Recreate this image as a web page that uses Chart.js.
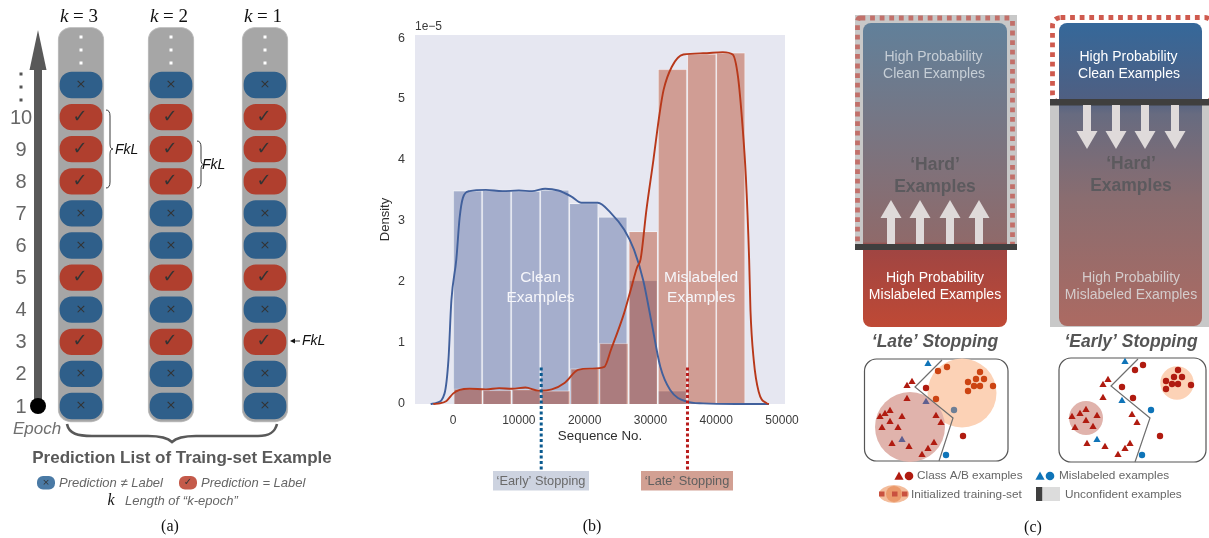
<!DOCTYPE html>
<html>
<head>
<meta charset="utf-8">
<title>Prediction history and stopping</title>
<script src="https://cdn.jsdelivr.net/npm/chart.js@4"></script>
<style>
  html, body { margin: 0; padding: 0; background: #fff; overflow: hidden; }
  canvas { position: absolute; top: 0; }
  #panelA { left: 0; }
  #panelB { left: 370px; }
  #panelC { left: 840px; }
</style>
</head>
<body>
<canvas id="panelA" width="340" height="538"></canvas>
<canvas id="panelB" width="440" height="538"></canvas>
<canvas id="panelC" width="369" height="538"></canvas>
<script>
// ---- panel (a): prediction list
const epochs = [1, 2, 3, 4, 5, 6, 7, 8, 9, 10, 11];
const kColumns = [81, 171, 265];
const kNames = ["3", "2", "1"];
const predictionCorrect = [0, 0, 1, 0, 1, 0, 0, 1, 1, 1, 0];
const epochLabels = ["1", "2", "3", "4", "5", "6", "7", "8", "9", "10"];

// ---- panel (b): histograms and density curves
const xTickValues = [0, 10000, 20000, 30000, 40000, 50000];
const cleanBinCenters = [2207, 6622, 11037, 15452, 19867, 24282, 28900, 33300];
const cleanBinHeights = [3.5, 3.51, 3.49, 3.51, 3.29, 3.07, 2.03, 0.22];
const misBinCenters = [2300, 6700, 11150, 15600, 20050, 24450, 28900, 33350, 37800, 42200];
const misBinHeights = [0.25, 0.23, 0.24, 0.22, 0.58, 1.0, 2.83, 5.49, 5.74, 5.76];
const cleanKdeX = [-3400, -2500, -1300, -700, -250, 500, 1000, 1500, 2500, 5000, 7500, 10000, 12000, 14000, 16000, 18000, 19500, 22000, 24000, 26000, 27500, 28900, 30200, 31500, 33000, 35500, 38000, 43000, 48000];
const cleanKdeY = [0, 0.02, 0.17, 0.72, 1.7, 2.37, 3.05, 3.38, 3.49, 3.51, 3.49, 3.5, 3.49, 3.53, 3.5, 3.4, 3.3, 3.3, 3.13, 2.86, 2.53, 2.03, 1.32, 0.61, 0.23, 0.04, 0.01, 0, 0];
const misKdeX = [-3000, -2000, -1000, 0, 1000, 2500, 5000, 7000, 9000, 11000, 13000, 15000, 17000, 19000, 21000, 23000, 24000, 26000, 27000, 28000, 28500, 29400, 30450, 31400, 32000, 33250, 35000, 38000, 41000, 42500, 43300, 44000, 44500, 45000, 45200, 45700, 46450, 47700, 48000];
const misKdeY = [0, 0.01, 0.05, 0.17, 0.23, 0.25, 0.24, 0.26, 0.25, 0.27, 0.22, 0.24, 0.35, 0.56, 0.58, 0.61, 0.89, 1.49, 1.87, 2.25, 2.37, 3.19, 4.0, 4.77, 5.15, 5.53, 5.73, 5.75, 5.77, 5.73, 5.37, 4.55, 3.73, 2.37, 1.54, 0.72, 0.2, 0.01, 0];
const earlyStopX = 13400;
const lateStopX = 35630;
const stopLineY = [0.6, -1.08];

// ---- panel (c): example sketches
const lateTriangles = [[72,382],[67,386],[67,399],[50,411],[45,414],[40,417],[62,417],[50,422],[42,428],[58,428],[96,416],[101,423],[52,444],[69,447],[94,443],[88,449],[82,455]];
const lateTinted = [[86,402],[62,440]];
const lateBlueTriangles = [[88,364]];
const lateCircles = [[86,388],[123,436]];
const lateOrangeCircles = [[98,371],[107,367],[96,399],[128,382],[140,372],[136,379],[144,379],[134,386],[140,386],[153,386],[128,391]];
const lateGreyCircles = [[114,410]];
const lateBlueCircles = [[106,455]];
const lateBoundary = [[102,360],[75,387],[113,418],[99,461]];
const earlyTriangles = [[268,380],[263,385],[263,398],[246,410],[240,414],[232,417],[257,416],[246,421],[235,428],[253,427],[292,415],[297,423],[247,444],[265,447],[290,444],[285,449],[278,455]];
const earlyBlueTriangles = [[285,362],[282,401],[257,440]];
const earlyCircles = [[303,365],[295,370],[282,387],[293,398],[320,436],[338,370],[334,377],[342,377],[326,381],[332,384],[338,384],[351,385],[326,389]];
const earlyBlueCircles = [[311,410],[302,455]];
const earlyBoundary = [[298,359],[271,386],[310,418],[295,462]];

const SANS = '"Liberation Sans", Arial, sans-serif';
const SERIF = '"Liberation Serif", serif';
Chart.defaults.font.family = SANS;
Chart.defaults.animation = false;

function text(ctx, str, x, y, font, color, align) {
  ctx.font = font;
  ctx.fillStyle = color;
  ctx.textAlign = align || "center";
  ctx.textBaseline = "middle";
  ctx.fillText(str, x, y);
}

function roundBox(ctx, x, y, w, h, r) {
  ctx.beginPath();
  ctx.roundRect(x, y, w, h, r);
}

function toPoints(list) {
  return list.map(p => ({ x: p[0], y: p[1] }));
}

const quiet = { legend: { display: false }, tooltip: { enabled: false } };

// ---------------- panel (a)
function pills(flag) {
  const out = [];
  kColumns.forEach(col => {
    epochs.forEach((e, i) => {
      if (predictionCorrect[i] === flag) out.push({ x: col, y: [e - 0.4, e + 0.4] });
    });
  });
  return out;
}

const panelAPlugin = {
  id: "panelA",
  afterDatasetsDraw(chart) {
    const ctx = chart.ctx;
    const yPx = v => chart.scales.y.getPixelForValue(v);
    const xPx = v => chart.scales.x.getPixelForValue(v);
    ctx.save();

    // epoch arrow
    ctx.fillStyle = "#595959";
    ctx.fillRect(34, 70, 8, 336);
    ctx.beginPath();
    ctx.moveTo(38, 30); ctx.lineTo(46.5, 70); ctx.lineTo(29.5, 70); ctx.closePath();
    ctx.fill();
    ctx.fillStyle = "#000";
    ctx.beginPath();
    ctx.arc(38, yPx(1), 8, 0, Math.PI * 2);
    ctx.fill();
    epochLabels.forEach(l => text(ctx, l, 21, yPx(Number(l)) + 1, "20px " + SANS, "#666"));
    ctx.fillStyle = "#555";
    [74, 87, 100].forEach(y => ctx.fillRect(19.5, y - 1.5, 3, 3));
    text(ctx, "Epoch", 13, 429, "italic 17px " + SANS, "#707070", "left");

    // column heads and contents
    kColumns.forEach((col, c) => {
      const x = xPx(col);
      ctx.font = "italic 19px " + SERIF;
      const tail = " = " + kNames[c];
      const kw = ctx.measureText("k").width;
      ctx.font = "19px " + SERIF;
      const tw = ctx.measureText(tail).width;
      const left = x - 2 - (kw + tw) / 2;
      text(ctx, "k", left, 17, "italic 19px " + SERIF, "#111", "left");
      text(ctx, tail, left + kw, 17, "19px " + SERIF, "#111", "left");
      ctx.fillStyle = "#fff";
      [37, 50, 63].forEach(y => ctx.fillRect(x - 1.5, y - 1.5, 3, 3));
      epochs.forEach((e, i) => {
        if (predictionCorrect[i]) {
          text(ctx, "\u2713", x - 1, yPx(e), "bold 18px 'DejaVu Sans'", "#333");
        } else {
          text(ctx, "\u00d7", x, yPx(e), "13px 'DejaVu Sans'", "#333");
        }
      });
    });

    // FkL braces
    const brace = (x, top, bottom) => {
      const mid = (top + bottom) / 2;
      ctx.beginPath();
      ctx.moveTo(x, top);
      ctx.quadraticCurveTo(x + 4, top, x + 4, top + 6);
      ctx.lineTo(x + 4, mid - 5);
      ctx.quadraticCurveTo(x + 4, mid, x + 7, mid);
      ctx.quadraticCurveTo(x + 4, mid, x + 4, mid + 5);
      ctx.lineTo(x + 4, bottom - 6);
      ctx.quadraticCurveTo(x + 4, bottom, x, bottom);
      ctx.stroke();
    };
    ctx.strokeStyle = "#222";
    ctx.lineWidth = 0.9;
    brace(106, 110, 188);
    brace(197, 141, 188);
    text(ctx, "FkL", 115, 150, "italic 14px " + SANS, "#111", "left");
    text(ctx, "FkL", 202, 165, "italic 14px " + SANS, "#111", "left");
    text(ctx, "FkL", 302, 341, "italic 14px " + SANS, "#111", "left");
    ctx.beginPath();
    ctx.moveTo(300, 341); ctx.lineTo(293, 341);
    ctx.stroke();
    ctx.fillStyle = "#111";
    ctx.beginPath();
    ctx.moveTo(290, 341); ctx.lineTo(295, 338.5); ctx.lineTo(295, 343.5); ctx.closePath();
    ctx.fill();

    // bottom brace
    ctx.strokeStyle = "#595959";
    ctx.lineWidth = 2.6;
    ctx.beginPath();
    ctx.moveTo(67, 424);
    ctx.bezierCurveTo(69, 434, 78, 436, 92, 436);
    ctx.lineTo(148, 436);
    ctx.bezierCurveTo(160, 436, 168, 438, 172, 442);
    ctx.bezierCurveTo(176, 438, 184, 436, 196, 436);
    ctx.lineTo(258, 436);
    ctx.bezierCurveTo(270, 436, 275, 432, 277, 424);
    ctx.stroke();

    text(ctx, "Prediction List of Traing-set Example", 182, 458, "bold 17px " + SANS, "#595959");

    // key
    ctx.fillStyle = "#4a7aa5";
    roundBox(ctx, 37, 476, 18, 13.5, 6);
    ctx.fill();
    text(ctx, "\u00d7", 46, 482.5, "9px 'DejaVu Sans'", "#333");
    text(ctx, "Prediction \u2260 Label", 59, 483, "italic 13px " + SANS, "#666", "left");
    ctx.fillStyle = "#c45a4a";
    roundBox(ctx, 179, 476, 18, 13.5, 6);
    ctx.fill();
    text(ctx, "\u2713", 188, 482.5, "10px 'DejaVu Sans'", "#333");
    text(ctx, "Prediction = Label", 201, 483, "italic 13px " + SANS, "#666", "left");
    text(ctx, "k", 111, 501, "italic 16px " + SERIF, "#111");
    text(ctx, "Length of \u201ck-epoch\u201d", 125, 501, "italic 13px " + SANS, "#666", "left");
    text(ctx, "(a)", 170, 527, "16px " + SERIF, "#111");
    ctx.restore();
  },
};

new Chart("panelA", {
  type: "bar",
  data: {
    datasets: [
      { data: pills(1), backgroundColor: "#b03f2e", barThickness: 42, grouped: false, borderRadius: 12, borderSkipped: false },
      { data: pills(0), backgroundColor: "#2f5f8a", barThickness: 42, grouped: false, borderRadius: 12, borderSkipped: false },
      {
        data: kColumns.map(col => ({ x: col, y: [0.5, 12.8] })),
        backgroundColor: "#a6a6a6",
        borderColor: "#c4c4c4",
        borderWidth: 1,
        barThickness: 46,
        grouped: false,
        borderRadius: 13,
        borderSkipped: false,
      },
    ],
  },
  options: {
    responsive: false,
    layout: { padding: 0, autoPadding: false },
    plugins: quiet,
    scales: {
      x: { type: "linear", display: false, offset: false, min: 0, max: 340 },
      y: { type: "linear", display: false, min: -3.112, max: 13.648 },
    },
  },
  plugins: [panelAPlugin],
});

// ---------------- panel (b)
const panelBPlugin = {
  id: "panelB",
  beforeDraw(chart) {
    const a = chart.chartArea;
    chart.ctx.save();
    chart.ctx.fillStyle = "#e6e7f1";
    chart.ctx.fillRect(a.left, a.top, a.right - a.left, a.bottom - a.top);
    chart.ctx.restore();
  },
  afterDatasetsDraw(chart) {
    const ctx = chart.ctx;
    const a = chart.chartArea;
    const x = chart.scales.x;
    ctx.save();
    text(ctx, "1e\u22125", a.left, 27, "12px " + SANS, "#3a3a3a", "left");
    const cleanX = x.getPixelForValue(13300);
    const misX = x.getPixelForValue(37700);
    text(ctx, "Clean", cleanX, 278, "15.5px " + SANS, "#f6f6fa");
    text(ctx, "Examples", cleanX, 298, "15.5px " + SANS, "#f6f6fa");
    text(ctx, "Mislabeled", misX, 278, "15.5px " + SANS, "#f6f6fa");
    text(ctx, "Examples", misX, 298, "15.5px " + SANS, "#f6f6fa");

    ctx.fillStyle = "#cdd3e0";
    ctx.fillRect(123, 471, 96, 19.5);
    text(ctx, "\u2018Early\u2019 Stopping", 171, 481, "12.8px " + SANS, "#6a6a6a");
    ctx.fillStyle = "#d2a093";
    ctx.fillRect(271, 471, 92, 19.5);
    text(ctx, "\u2018Late\u2019 Stopping", 317, 481, "12.8px " + SANS, "#5f5f5f");
    text(ctx, "(b)", 222, 527, "16px " + SERIF, "#111");
    ctx.restore();
  },
};

const zipXY = (xs, ys) => xs.map((v, i) => ({ x: v, y: ys[i] }));
const stopLine = (x, color) => ({
  type: "line",
  data: stopLineY.map(y => ({ x: x, y: y })),
  borderColor: color,
  borderWidth: 3,
  borderDash: [3, 2.5],
  pointRadius: 0,
  clip: false,
});
const kdeLine = (xs, ys, color, width) => ({
  type: "line",
  data: zipXY(xs, ys),
  borderColor: color,
  borderWidth: width,
  pointRadius: 0,
  cubicInterpolationMode: "monotone",
  clip: false,
});

new Chart("panelB", {
  type: "bar",
  data: {
    datasets: [
      stopLine(earlyStopX, "#0b5a8f"),
      stopLine(lateStopX, "#b81c1c"),
      kdeLine(misKdeX, misKdeY, "#b8381a", 1.9),
      kdeLine(cleanKdeX, cleanKdeY, "#41609c", 1.9),
      {
        data: zipXY(misBinCenters, misBinHeights),
        backgroundColor: "rgba(178,55,20,0.42)",
        borderColor: "rgba(255,255,255,0.4)",
        borderWidth: 1,
        barThickness: 29,
        grouped: false,
      },
      {
        data: zipXY(cleanBinCenters, cleanBinHeights),
        backgroundColor: "rgba(68,90,150,0.4)",
        borderColor: "rgba(255,255,255,0.45)",
        borderWidth: 1,
        barThickness: 29,
        grouped: false,
      },
    ],
  },
  options: {
    responsive: false,
    layout: { padding: { left: 8, right: 25, top: 35, bottom: 94 }, autoPadding: false },
    plugins: quiet,
    scales: {
      x: {
        type: "linear",
        offset: false,
        min: -5780,
        max: 50450,
        border: { display: false },
        grid: { display: false, drawTicks: false },
        afterBuildTicks: s => { s.ticks = xTickValues.map(v => ({ value: v })); },
        ticks: {
          autoSkip: false,
          maxRotation: 0,
          padding: 9,
          color: "#3a3a3a",
          font: { size: 12 },
          callback: v => String(v),
        },
        title: { display: true, text: "Sequence No.", color: "#2e2e2e", font: { size: 13.3 }, padding: { top: 0, bottom: 0 } },
        afterFit: s => { s.height = 40; },
      },
      y: {
        type: "linear",
        min: 0,
        max: 6.05,
        border: { display: false },
        grid: { display: false, drawTicks: false },
        ticks: { stepSize: 1, includeBounds: false, padding: 10, color: "#3a3a3a", font: { size: 12.5 } },
        title: { display: true, text: "Density", color: "#2e2e2e", font: { size: 13 }, padding: { top: 0, bottom: 0 } },
        afterFit: s => { s.width = 37; },
      },
    },
  },
  plugins: [panelBPlugin],
});

// ---------------- panel (c)
function gradientPanel(ctx, x, y, w, h, stops) {
  const g = ctx.createLinearGradient(0, y, 0, y + h);
  stops.forEach(s => g.addColorStop(s[0], s[1]));
  ctx.fillStyle = g;
  roundBox(ctx, x, y, w, h, 8);
  ctx.fill();
}

function blockArrow(ctx, x, tip, base, up) {
  const head = up ? tip + 18 : tip - 18;
  ctx.fillStyle = "#dfdada";
  ctx.fillRect(x - 4, up ? head : base, 8, up ? base - head : head - base);
  ctx.beginPath();
  ctx.moveTo(x, tip);
  ctx.lineTo(x + 10.5, head);
  ctx.lineTo(x - 10.5, head);
  ctx.closePath();
  ctx.fill();
}

const panelCPlugin = {
  id: "panelC",
  beforeDatasetsDraw(chart) {
    const ctx = chart.ctx;
    ctx.save();

    // 'Late' column, dashed frame runs under the dark bar
    ctx.fillStyle = "#c8c8c8";
    ctx.fillRect(15, 15, 162, 232);
    gradientPanel(ctx, 23, 23, 144, 304, [[0, "#61809a"], [0.72, "#8f6a6a"], [0.73, "#9e4543"], [1, "#bf4935"]]);
    ctx.strokeStyle = "#c2706a";
    ctx.lineWidth = 4.8;
    ctx.setLineDash([4.8, 4.8]);
    roundBox(ctx, 17.5, 18, 155, 229, 3);
    ctx.stroke();
    ctx.setLineDash([]);
    ctx.fillStyle = "#3f3f3f";
    ctx.fillRect(15, 244, 162, 6);
    [51, 80, 110, 139].forEach(x => blockArrow(ctx, x, 200, 244, true));

    // 'Early' column
    ctx.fillStyle = "#c8c8c8";
    ctx.fillRect(210, 105, 159, 222);
    gradientPanel(ctx, 219, 23, 143, 303, [[0, "#35689a"], [0.25, "#4f5f82"], [0.3, "#676b80"], [0.58, "#8a6d70"], [1, "#ac6a62"]]);
    ctx.strokeStyle = "#cf5a4e";
    ctx.lineWidth = 4.8;
    ctx.setLineDash([4.8, 4.8]);
    roundBox(ctx, 212.5, 17.5, 160, 85, 8);
    ctx.stroke();
    ctx.setLineDash([]);
    ctx.fillStyle = "#3f3f3f";
    ctx.fillRect(210, 99, 159, 6.5);
    [247, 276, 305, 335].forEach(x => blockArrow(ctx, x, 149, 105, false));

    // sketch frames
    ctx.strokeStyle = "#555";
    ctx.lineWidth = 1.2;
    roundBox(ctx, 24.5, 359, 143.5, 102, 12);
    ctx.stroke();
    roundBox(ctx, 219, 358, 147, 104, 12);
    ctx.stroke();
    ctx.restore();
  },
  afterDatasetsDraw(chart) {
    const ctx = chart.ctx;
    ctx.save();
    const body = "14px " + SANS;
    const bold = "bold 17.5px " + SANS;

    text(ctx, "High Probability", 93.5, 57, body, "#c6ced6");
    text(ctx, "Clean Examples", 94, 74, body, "#c6ced6");
    text(ctx, "\u2018Hard\u2019", 95, 165, bold, "#5c5a5e");
    text(ctx, "Examples", 95, 187, bold, "#5c5a5e");
    text(ctx, "High Probability", 95, 278, body, "#fff");
    text(ctx, "Mislabeled Examples", 95, 295, body, "#fff");
    text(ctx, "\u2018Late\u2019 Stopping", 95, 342, "italic bold 17.5px " + SANS, "#555");

    text(ctx, "High Probability", 288.5, 57, body, "#fff");
    text(ctx, "Clean Examples", 289, 74, body, "#fff");
    text(ctx, "\u2018Hard\u2019", 291, 164, bold, "#5c5a5e");
    text(ctx, "Examples", 291, 186, bold, "#5c5a5e");
    text(ctx, "High Probability", 291, 278, body, "#d4cccc");
    text(ctx, "Mislabeled Examples", 291, 295, body, "#d4cccc");
    text(ctx, "\u2018Early\u2019 Stopping", 291, 342, "italic bold 17.5px " + SANS, "#555");

    // key
    const keyFont = "11.8px " + SANS;
    const tri = (x, y, r, color) => {
      ctx.fillStyle = color;
      ctx.beginPath();
      ctx.moveTo(x, y - r);
      ctx.lineTo(x + r, y + r * 0.8);
      ctx.lineTo(x - r, y + r * 0.8);
      ctx.closePath();
      ctx.fill();
    };
    const dot = (x, y, r, color) => {
      ctx.fillStyle = color;
      ctx.beginPath();
      ctx.arc(x, y, r, 0, Math.PI * 2);
      ctx.fill();
    };
    tri(59, 476, 4.6, "#b01b10");
    dot(69, 476, 4.3, "#b01b10");
    text(ctx, "Class A/B examples", 77, 476, keyFont, "#666", "left");
    tri(200, 476, 4.6, "#0f74b8");
    dot(210, 476, 4.3, "#0f74b8");
    text(ctx, "Mislabeled examples", 219, 476, keyFont, "#666", "left");

    ctx.fillStyle = "#f3bd9c";
    ctx.beginPath();
    ctx.ellipse(54, 494, 15, 9, 0, 0, Math.PI * 2);
    ctx.fill();
    ctx.fillStyle = "#eb9a6b";
    ctx.beginPath();
    ctx.ellipse(54, 494, 8, 8, 0, 0, Math.PI * 2);
    ctx.fill();
    ctx.fillStyle = "#c9513f";
    [42, 55, 65].forEach(x => ctx.fillRect(x - 3, 491.5, 5.5, 5));
    text(ctx, "Initialized training-set", 71, 495, keyFont, "#666", "left");
    ctx.fillStyle = "#3f3f3f";
    ctx.fillRect(196, 487, 6.5, 14);
    ctx.fillStyle = "#dcdcdc";
    ctx.fillRect(202.5, 487, 17.5, 14);
    text(ctx, "Unconfident examples", 225, 495, keyFont, "#666", "left");
    text(ctx, "(c)", 193, 528, "16px " + SERIF, "#111");
    ctx.restore();
  },
};

const marks = (list, style, color, radius) => ({
  data: toPoints(list),
  pointStyle: style,
  backgroundColor: color,
  borderColor: color,
  borderWidth: 0,
  pointRadius: radius,
  showLine: false,
});
const boundary = list => ({
  data: toPoints(list),
  showLine: true,
  borderColor: "#6e6e6e",
  borderWidth: 1.2,
  pointRadius: 0,
  fill: false,
});
const shade = (x, y, r, color) => ({
  data: [{ x: x, y: y }],
  pointStyle: "circle",
  backgroundColor: color,
  borderWidth: 0,
  pointRadius: r,
  showLine: false,
});

new Chart("panelC", {
  type: "scatter",
  data: {
    datasets: [
      marks(lateBlueTriangles, "triangle", "#0f74b8", 4.2),
      marks(lateTinted, "triangle", "#5f5f90", 4.2),
      marks(lateTriangles, "triangle", "#b01b10", 4.2),
      marks(lateCircles, "circle", "#b01b10", 3.2),
      marks(lateOrangeCircles, "circle", "#cc4412", 3.2),
      marks(lateGreyCircles, "circle", "#6e7f96", 3.2),
      marks(lateBlueCircles, "circle", "#0f74b8", 3.2),
      marks(earlyBlueTriangles, "triangle", "#0f74b8", 4.2),
      marks(earlyTriangles, "triangle", "#b01b10", 4.2),
      marks(earlyCircles, "circle", "#b01b10", 3.2),
      marks(earlyBlueCircles, "circle", "#0f74b8", 3.2),
      boundary(lateBoundary),
      boundary(earlyBoundary),
      shade(70, 427, 35, "#e0b3ac"),
      shade(122, 393, 34.5, "#fcd2b6"),
      shade(246, 418, 17, "#e0b3ac"),
      shade(337, 383, 16.7, "#fcd2b6"),
    ],
  },
  options: {
    responsive: false,
    layout: { padding: 0, autoPadding: false },
    plugins: quiet,
    scales: {
      x: { type: "linear", display: false, min: 0, max: 369 },
      y: { type: "linear", display: false, min: 0, max: 538, reverse: true },
    },
  },
  plugins: [panelCPlugin],
});
</script>
</body>
</html>
